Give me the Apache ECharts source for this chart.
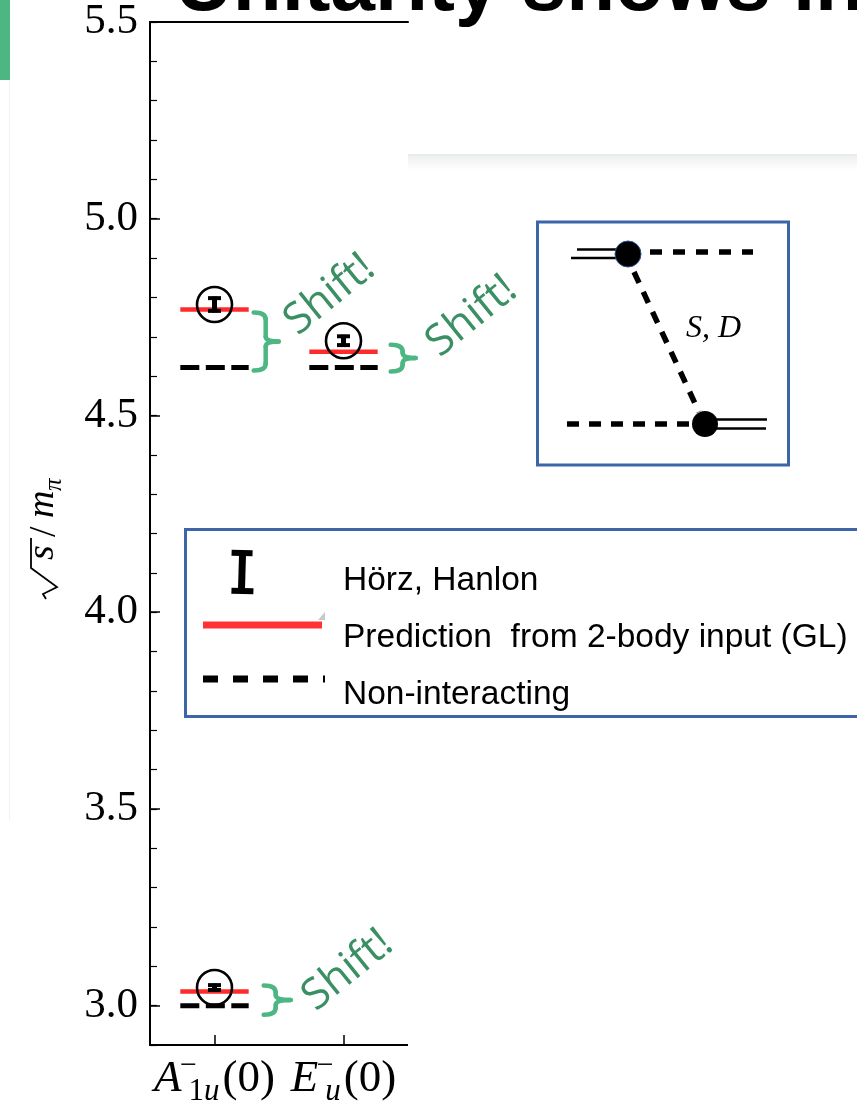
<!DOCTYPE html>
<html><head><meta charset="utf-8">
<script src="https://cdn.jsdelivr.net/npm/echarts@6/dist/echarts.min.js"></script>
<style>html,body{margin:0;padding:0;background:#fff}#c{width:857px;height:1107px}</style>
</head><body><div id="c"></div>
<script>
// ---------------- data ----------------
const categories = ['A1u(0)', 'Eu(0)'];
const levelCat = [0, 1, 0];                  // category index of each level
const predictionGL = [4.769, 4.662, 3.036];  // red lines
const nonInteracting = [4.622, 4.622, 3.000];// black dashed lines
const latticeValue = [4.782, 4.690, 3.046];  // Hörz, Hanlon points
const latticeErr = [0.020, 0.015, 0.010];
const yTickValues = [3.0, 3.5, 4.0, 4.5, 5.0, 5.5];
const xTickBase = ['A', 'E'];
const xTickSup = ['\u2212', '\u2212'];
const xTickSubRm = ['1', ''];
const xTickSubIt = ['u', 'u'];
const xTickArg = ['(0)', '(0)'];
const legendLabels = ['Hörz, Hanlon', 'Prediction  from 2-body input (GL)', 'Non-interacting'];
const shiftLabel = 'Shift!';
const titleText = 'Unitarity shows in';
const insetLabel = 'S, D';

const RED = '#ff2a2a', GREEN = '#4cb782', GREEN_TXT = '#3a8f63', BLUE = '#3d66a8';
const SERIF = '"Liberation Serif","DejaVu Serif",serif';
const SANS = '"Liberation Sans",Arial,sans-serif';
const HALF = 0.265;

const chart = echarts.init(document.getElementById('c'), null, {renderer: 'canvas'});

function levelItem(values, i) { return [levelCat[i], values[i]]; }

const option = {
  animation: false,
  backgroundColor: '#fff',
  grid: {left: 150, right: 449, top: 22, bottom: 60, containLabel: false},
  xAxis: [{
    type: 'value', min: -0.5, max: 1.5, position: 'bottom',
    axisLine: {show: true, onZero: false, lineStyle: {color: '#000', width: 2}},
    axisTick: {show: true, inside: true, length: 10, customValues: [0, 1], lineStyle: {color: '#000', width: 1.5}},
    splitLine: {show: false},
    axisLabel: {
      customValues: [0, 1], margin: 6,
      formatter: function (v) {
        const i = Math.round(v);
        let s = '{it|' + xTickBase[i] + '}{sup|' + xTickSup[i] + '}';
        if (xTickSubRm[i]) s += '{subrm|' + xTickSubRm[i] + '}';
        s += '{subit|' + xTickSubIt[i] + '}{rm|' + xTickArg[i] + '}';
        return s;
      },
      rich: {
        it: {fontFamily: SERIF, fontStyle: 'italic', fontSize: 45, color: '#000', lineHeight: 56},
        sup: {fontFamily: SERIF, fontSize: 30, color: '#000', width: 0, verticalAlign: 'top', padding: [0, 0, 0, 7], lineHeight: 30},
        subrm: {fontFamily: SERIF, fontSize: 31, color: '#000', verticalAlign: 'bottom', lineHeight: 30},
        subit: {fontFamily: SERIF, fontStyle: 'italic', fontSize: 31, color: '#000', verticalAlign: 'bottom', lineHeight: 30},
        rm: {fontFamily: SERIF, fontSize: 45, color: '#000', lineHeight: 56, padding: [0, 0, 0, 3]}
      }
    }
  }, {
    type: 'value', min: -0.5, max: 1.5, position: 'top',
    axisLine: {show: true, onZero: false, lineStyle: {color: '#000', width: 2}},
    axisTick: {show: false}, axisLabel: {show: false}, splitLine: {show: false}
  }],
  yAxis: [{
    type: 'value', min: 2.9, max: 5.5, position: 'left',
    axisLine: {show: true, onZero: false, lineStyle: {color: '#000', width: 2}},
    axisTick: {show: true, inside: true, length: 10, customValues: yTickValues, lineStyle: {color: '#000', width: 1.5}},
    splitLine: {show: false},
    axisLabel: {customValues: yTickValues, margin: 12, color: '#000', fontFamily: SERIF, fontSize: 43,
      formatter: v => v.toFixed(1)}
  }, {
    type: 'value', min: 2.9, max: 5.5, interval: 0.1, position: 'left',
    axisLine: {show: false, onZero: false}, axisLabel: {show: false}, splitLine: {show: false},
    axisTick: {show: true, inside: true, length: 7, lineStyle: {color: '#000', width: 1.2}}
  }],
  series: [
    {
      type: 'custom', name: 'Non-interacting', xAxisIndex: 0, yAxisIndex: 0, z: 3,
      data: nonInteracting.map((v, i) => levelItem(nonInteracting, i)),
      renderItem: function (params, api) {
        const a = api.coord([api.value(0) - HALF, api.value(1)]);
        const b = api.coord([api.value(0) + HALF, api.value(1)]);
        return {type: 'line', shape: {x1: a[0], y1: a[1], x2: b[0], y2: b[1]},
          style: {stroke: '#000', lineWidth: 5, lineDash: [19, 6.5]}};
      }
    },
    {
      type: 'custom', name: 'Prediction', xAxisIndex: 0, yAxisIndex: 0, z: 4,
      data: predictionGL.map((v, i) => levelItem(predictionGL, i)),
      renderItem: function (params, api) {
        const a = api.coord([api.value(0) - HALF, api.value(1)]);
        const b = api.coord([api.value(0) + HALF, api.value(1)]);
        return {type: 'line', shape: {x1: a[0], y1: a[1], x2: b[0], y2: b[1]},
          style: {stroke: RED, lineWidth: 4.5}};
      }
    },
    {
      type: 'custom', name: 'Hörz, Hanlon', xAxisIndex: 0, yAxisIndex: 0, z: 5,
      data: latticeValue.map((v, i) => [levelCat[i], v, latticeErr[i]]),
      renderItem: function (params, api) {
        const x = api.value(0), v = api.value(1), e = api.value(2);
        const top = api.coord([x, v + e]);
        const bot = api.coord([x, v - e]);
        const cx = top[0];
        return {type: 'group', children: [
          {type: 'line', shape: {x1: cx, y1: top[1], x2: cx, y2: bot[1]}, style: {stroke: '#000', lineWidth: 5}},
          {type: 'line', shape: {x1: cx - 6.5, y1: top[1] + 1.5, x2: cx + 6.5, y2: top[1] + 1.5}, style: {stroke: '#000', lineWidth: 4}},
          {type: 'line', shape: {x1: cx - 6.5, y1: bot[1] - 1.5, x2: cx + 6.5, y2: bot[1] - 1.5}, style: {stroke: '#000', lineWidth: 4}}
        ]};
      }
    },
    {
      type: 'scatter', name: 'circles', xAxisIndex: 0, yAxisIndex: 0, z: 6,
      symbol: 'circle', symbolSize: 35,
      itemStyle: {color: 'rgba(0,0,0,0)', borderColor: '#000', borderWidth: 2.6, opacity: 1},
      data: latticeValue.map((v, i) => [levelCat[i], v]),
      silent: true
    }
  ]
};
chart.setOption(option);

// ---------------- overlays (slide elements) ----------------
function px(x, y) { return chart.convertToPixel({xAxisIndex: 0, yAxisIndex: 0}, [x, y]); }

function braceParts(x, yTop, yBot, nub, z) {
  const xm = x + 12, mid = (yTop + yBot) / 2;
  const st = {stroke: GREEN, lineWidth: 4.5, fill: null, lineCap: 'round'};
  return [
    {type: 'bezierCurve', z: z, shape: {x1: x, y1: yTop, cpx1: xm, cpy1: yTop, x2: xm, y2: yTop + 7}, style: st},
    {type: 'line', z: z, shape: {x1: xm, y1: yTop + 7, x2: xm, y2: mid - 5}, style: st},
    {type: 'bezierCurve', z: z, shape: {x1: xm, y1: mid - 5, cpx1: xm, cpy1: mid, x2: xm + nub, y2: mid}, style: st},
    {type: 'bezierCurve', z: z, shape: {x1: xm + nub, y1: mid, cpx1: xm, cpy1: mid, x2: xm, y2: mid + 5}, style: st},
    {type: 'line', z: z, shape: {x1: xm, y1: mid + 5, x2: xm, y2: yBot - 7}, style: st},
    {type: 'bezierCurve', z: z, shape: {x1: xm, y1: yBot - 7, cpx1: xm, cpy1: yBot, x2: x, y2: yBot}, style: st}
  ];
}

// brace annotation per level: [dx from line end, top pad, bottom pad, nub, text dx, text dy]
const braceCfg = [[5, 3, 3, 13, 50, 2], [13, -7, 4, 13, 55, 7], [15, -6, 9, 15, 58, 19]];
const g = [];
// white panel covering right part
g.push({type: 'rect', shape: {x: 408, y: 155, width: 449, height: 952}, style: {fill: '#fff'}, z: 10});
g.push({type: 'rect', shape: {x: 408, y: 156, width: 449, height: 14}, z: 10,
  style: {fill: new echarts.graphic.LinearGradient(0, 0, 0, 1, [{offset: 0, color: '#efefef'}, {offset: 1, color: '#ffffff'}])}});
g.push({type: 'line', shape: {x1: 408, y1: 155, x2: 857, y2: 155}, style: {stroke: '#e2f0e6', lineWidth: 2}, z: 10});
// green accent bar and faint left rule
g.push({type: 'rect', shape: {x: 0, y: 0, width: 10, height: 80}, style: {fill: GREEN}, z: 10});
g.push({type: 'line', shape: {x1: 9.5, y1: 80, x2: 9.5, y2: 820}, style: {stroke: '#f2f2f2', lineWidth: 1}, z: 10});
// title (clipped at top)
g.push({type: 'text', x: 175, y: 28, z: 12, style: {text: titleText, fontFamily: SANS, fontWeight: 'bold', fontSize: 80,
  fill: '#000', align: 'left', verticalAlign: 'bottom'}});

// braces + Shift!
for (let i = 0; i < 3; i++) {
  const c = braceCfg[i];
  const end = px(levelCat[i] + HALF, predictionGL[i]);
  const yTop = Math.min(end[1], px(0, nonInteracting[i])[1]) + c[1];
  const yBot = Math.max(end[1], px(0, nonInteracting[i])[1]) + c[2];
  const x0 = end[0] + c[0];
  braceParts(x0, yTop, yBot, c[3], 20).forEach(e => g.push(e));
  g.push({type: 'text', z: 20, x: x0 + c[4], y: (yTop + yBot) / 2 + c[5], rotation: 0.68,
    style: {text: shiftLabel, fontFamily: '"Open Sans",sans-serif', fontSize: 43, fill: GREEN_TXT, align: 'left', verticalAlign: 'bottom'}});
}

// inset diagram box
g.push({type: 'rect', z: 15, shape: {x: 537.5, y: 222, width: 251, height: 243}, style: {fill: '#fff', stroke: BLUE, lineWidth: 3}});
g.push({type: 'line', z: 16, shape: {x1: 577, y1: 249.5, x2: 620, y2: 249.5}, style: {stroke: '#000', lineWidth: 2.5}});
g.push({type: 'line', z: 16, shape: {x1: 571, y1: 258, x2: 620, y2: 258}, style: {stroke: '#000', lineWidth: 2.5}});
g.push({type: 'line', z: 16, shape: {x1: 650, y1: 252, x2: 753, y2: 252}, style: {stroke: '#000', lineWidth: 5.5, lineDash: [12, 11]}});
g.push({type: 'line', z: 16, shape: {x1: 634, y1: 272, x2: 699, y2: 412}, style: {stroke: '#000', lineWidth: 5.5, lineDash: [12, 10]}});
g.push({type: 'line', z: 16, shape: {x1: 567, y1: 424, x2: 700, y2: 424}, style: {stroke: '#000', lineWidth: 5.5, lineDash: [12, 10]}});
g.push({type: 'line', z: 16, shape: {x1: 704, y1: 419.5, x2: 767, y2: 419.5}, style: {stroke: '#000', lineWidth: 2.5}});
g.push({type: 'line', z: 16, shape: {x1: 704, y1: 428.5, x2: 766, y2: 428.5}, style: {stroke: '#000', lineWidth: 2.5}});
g.push({type: 'circle', z: 17, shape: {cx: 628, cy: 254, r: 13}, style: {fill: '#000', stroke: '#2a4f8a', lineWidth: 1}});
g.push({type: 'circle', z: 17, shape: {cx: 705, cy: 424, r: 13}, style: {fill: '#000'}});
g.push({type: 'text', z: 17, x: 686, y: 329, style: {text: insetLabel, fontFamily: SERIF, fontStyle: 'italic', fontSize: 32, fill: '#000', align: 'left', verticalAlign: 'middle'}});

// legend box
g.push({type: 'rect', z: 15, shape: {x: 185.5, y: 529.5, width: 700, height: 187}, style: {fill: '#fff', stroke: BLUE, lineWidth: 3}});
g.push({type: 'group', z: 16, x: 242, y: 572, rotation: -0.03, children: [
  {type: 'line', z: 16, shape: {x1: 0, y1: -19, x2: 0, y2: 19}, style: {stroke: '#000', lineWidth: 7}},
  {type: 'line', z: 16, shape: {x1: -11, y1: -19, x2: 10, y2: -19}, style: {stroke: '#000', lineWidth: 6}},
  {type: 'line', z: 16, shape: {x1: -10, y1: 19, x2: 12, y2: 19}, style: {stroke: '#000', lineWidth: 6}}
]});
g.push({type: 'line', z: 16, shape: {x1: 203, y1: 625, x2: 322, y2: 625}, style: {stroke: '#ff3333', lineWidth: 7}});
g.push({type: 'polygon', z: 16, shape: {points: [[318, 620], [325, 612], [325, 620]]}, style: {fill: '#c8c8c8'}});
g.push({type: 'line', z: 16, shape: {x1: 203, y1: 679, x2: 325, y2: 679}, style: {stroke: '#000', lineWidth: 7, lineDash: [15, 15]}});
const legY = [581, 638, 695];
legendLabels.forEach((t, i) => g.push({type: 'text', z: 16, x: 343, y: legY[i],
  style: {text: t, fontFamily: SANS, fontSize: 33.5, fill: '#000', align: 'left', verticalAlign: 'middle'}}));

// y-axis name: sqrt(s)/m_pi, rotated
g.push({type: 'group', z: 12, x: 55, y: 600, rotation: Math.PI / 2, children: [
  {type: 'polyline', shape: {points: [[1, -9], [6, -12], [13, 2], [32, -24], [62, -24]]}, style: {stroke: '#000', lineWidth: 1.8, fill: null}},
  {type: 'text', x: 40, y: 7, style: {text: 's', fontFamily: SERIF, fontStyle: 'italic', fontSize: 38, fill: '#000', align: 'left', verticalAlign: 'bottom'}},
  {type: 'text', x: 63, y: 9, style: {text: '/', fontFamily: SERIF, fontSize: 38, fill: '#000', align: 'left', verticalAlign: 'bottom'}},
  {type: 'text', x: 82, y: 7, style: {text: 'm', fontFamily: SERIF, fontStyle: 'italic', fontSize: 38, fill: '#000', align: 'left', verticalAlign: 'bottom'}},
  {type: 'text', x: 109, y: 12, style: {text: 'π', fontFamily: SERIF, fontStyle: 'italic', fontSize: 25, fill: '#000', align: 'left', verticalAlign: 'bottom'}}
]});

chart.setOption({graphic: {elements: g}});
</script>
</body></html>
